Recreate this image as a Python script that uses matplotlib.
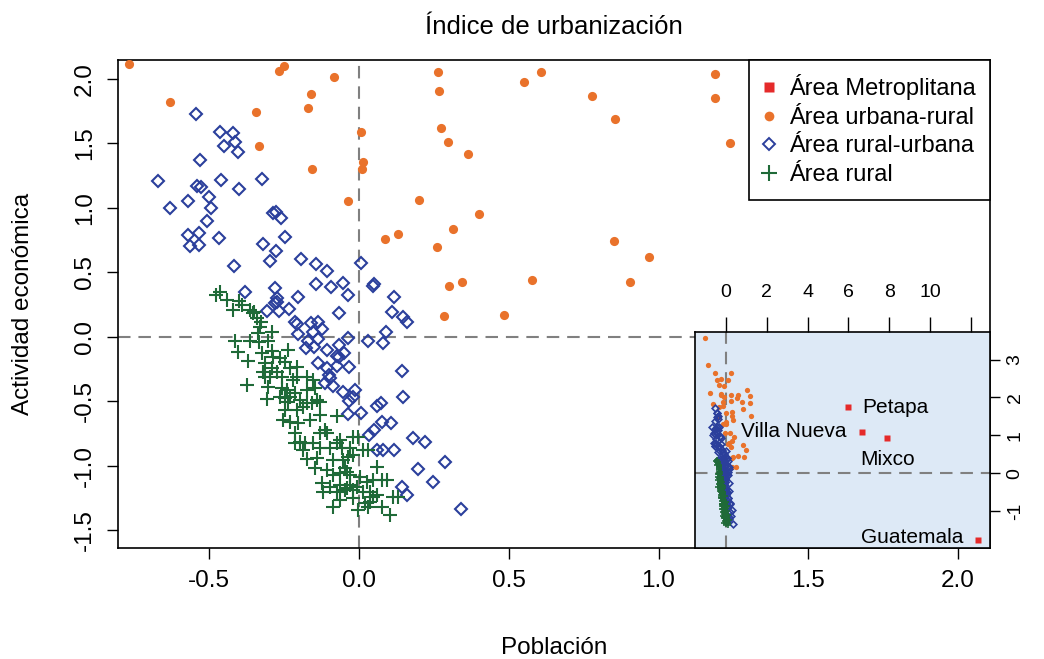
import matplotlib
matplotlib.use('Agg')
import matplotlib.pyplot as plt
from matplotlib.lines import Line2D

plt.rcParams['font.family'] = ['Liberation Sans', 'DejaVu Sans']
plt.rcParams['axes.unicode_minus'] = False

title = "Índice de urbanización"
xlabel = "Población"
ylabel = "Actividad económica"
legend_labels = ["Área Metroplitana", "Área urbana-rural", "Área rural-urbana", "Área rural"]

# Área urbana-rural (orange dots)
urb_rur_x = [-0.768, -0.266, -0.250, -0.085, -0.633, -0.160, -0.171, -0.343, 0.007, -0.333,
             0.014, 0.009, -0.157, -0.036, 0.201, 0.086, 0.131, 0.265, 0.267, 0.551,
             0.607, 1.190, 1.190, 0.778, 0.856, 1.240, 0.275, 0.296, 0.363, 0.400,
             0.314, 0.261, 0.851, 0.969, 0.299, 0.344, 0.579, 0.905, 0.283, 0.483,
             -1.03, -0.87, -0.54, 0.25, -0.46, -0.25, 0.11, -0.34, -0.08, 1.04]
urb_rur_y = [2.114, 2.065, 2.103, 2.016, 1.822, 1.884, 1.773, 1.744, 1.592, 1.483,
             1.354, 1.300, 1.300, 1.052, 1.064, 0.760, 0.796, 2.057, 1.909, 1.979,
             2.052, 2.041, 1.855, 1.871, 1.692, 1.501, 1.620, 1.514, 1.416, 0.953,
             0.840, 0.700, 0.747, 0.618, 0.398, 0.426, 0.439, 0.429, 0.165, 0.171,
             3.56, 2.86, 2.64, 2.64, 2.46, 2.48, 2.46, 2.33, 2.30, 2.20]

# Área rural-urbana (blue open diamonds)
rur_urb_x = [-0.545, -0.465, -0.421, -0.413, -0.452, -0.403, -0.530, -0.673, -0.540, -0.528,
             -0.461, -0.323, -0.401, -0.501, -0.572, -0.631, -0.493, -0.286, -0.279, -0.261,
             -0.508, -0.572, -0.534, -0.467, -0.564, -0.535, -0.320, -0.248, -0.277, -0.297,
             -0.195, -0.143, -0.107, 0.007, -0.143, -0.093, -0.052, 0.051, 0.048, -0.037,
             -0.282, -0.203, -0.275, 0.118, -0.417, -0.381, -0.280, -0.273, -0.306, -0.269,
             -0.234, -0.066, 0.109, 0.148, 0.159, -0.213, -0.208, -0.161, -0.138, -0.125,
             -0.153, -0.203, -0.038, 0.089, 0.029, 0.079, -0.169, -0.136, -0.178, -0.150,
             -0.108, -0.067, -0.049, -0.074, -0.067, -0.136, -0.074, -0.034, -0.106, -0.099,
             -0.097, -0.114, -0.086, 0.145, -0.052, -0.013, -0.019, -0.032, 0.148, 0.059,
             0.072, -0.036, 0.006, 0.076, 0.106, 0.051, 0.033, 0.181, 0.220, 0.059,
             0.081, 0.118, 0.287, 0.198, 0.246, 0.145, 0.160, 0.340]
rur_urb_y = [1.729, 1.587, 1.579, 1.514, 1.478, 1.437, 1.375, 1.207, 1.168, 1.165,
             1.215, 1.222, 1.145, 1.085, 1.052, 0.997, 0.997, 0.963, 0.971, 0.920,
             0.902, 0.793, 0.804, 0.767, 0.705, 0.711, 0.723, 0.775, 0.670, 0.592,
             0.607, 0.568, 0.512, 0.574, 0.411, 0.390, 0.421, 0.411, 0.395, 0.326,
             0.382, 0.308, 0.300, 0.308, 0.548, 0.351, 0.261, 0.274, 0.202, 0.204,
             0.215, 0.184, 0.196, 0.157, 0.114, 0.114, 0.098, 0.106, 0.114, 0.060,
             0.041, 0.021, -0.005, 0.039, -0.031, -0.049, -0.031, -0.018, -0.088, -0.080,
             -0.101, -0.062, -0.121, -0.147, -0.158, -0.199, -0.225, -0.235, -0.243, -0.295,
             -0.320, -0.359, -0.380, -0.261, -0.424, -0.411, -0.463, -0.496, -0.463, -0.535,
             -0.509, -0.599, -0.592, -0.656, -0.669, -0.721, -0.760, -0.785, -0.811, -0.876,
             -0.876, -0.876, -0.966, -1.026, -1.121, -1.160, -1.225, -1.336]

# Área rural (green crosses)
rural_x = [-0.477, -0.466, -0.440, -0.420, -0.400, -0.392, -0.364, -0.355, -0.350, -0.342,
           -0.328, -0.331, -0.292, -0.336, -0.414, -0.364, -0.333, -0.303, -0.403, -0.370,
           -0.325, -0.292, -0.286, -0.264, -0.236, -0.314, -0.247, -0.292, -0.208, -0.230,
           -0.275, -0.320, -0.314, -0.297, -0.258, -0.208, -0.175, -0.153, -0.219, -0.375,
           -0.303, -0.258, -0.241, -0.214, -0.175, -0.147, -0.308, -0.264, -0.247, -0.230,
           -0.236, -0.197, -0.175, -0.141, -0.158, -0.130, -0.247, -0.208, -0.186, -0.253,
           -0.230, -0.203, -0.164, -0.130, -0.072, -0.214, -0.130, -0.114, -0.108, -0.214,
           -0.197, -0.180, -0.153, -0.186, -0.130, -0.097, -0.074, -0.063, -0.058, -0.030,
           -0.019, -0.002, -0.175, -0.141, -0.086, -0.052, -0.036, -0.019, 0.014, 0.031,
           -0.147, -0.108, -0.047, -0.041, 0.059, -0.086, -0.063, -0.030, 0.003, -0.125,
           -0.097, -0.063, -0.041, -0.030, -0.008, 0.026, 0.048, 0.076, 0.092, -0.119,
           -0.074, -0.047, -0.019, 0.014, 0.037, 0.048, 0.059, -0.063, -0.019, 0.020,
           0.037, 0.115, 0.131, -0.086, -0.002, 0.031, 0.076, 0.104]
rural_y = [0.326, 0.351, 0.287, 0.209, 0.282, 0.248, 0.209, 0.183, 0.196, 0.145,
           0.119, 0.080, 0.041, 0.028, -0.028, -0.028, -0.036, -0.031, -0.114, -0.183,
           -0.126, -0.106, -0.153, -0.166, -0.101, -0.199, -0.191, -0.243, -0.230, -0.240,
           -0.269, -0.275, -0.308, -0.308, -0.312, -0.308, -0.308, -0.333, -0.333, -0.372,
           -0.390, -0.398, -0.411, -0.437, -0.411, -0.398, -0.483, -0.463, -0.475, -0.463,
           -0.502, -0.488, -0.514, -0.488, -0.514, -0.502, -0.566, -0.566, -0.540, -0.643,
           -0.657, -0.664, -0.643, -0.605, -0.612, -0.747, -0.747, -0.721, -0.747, -0.824,
           -0.811, -0.824, -0.824, -0.876, -0.863, -0.863, -0.824, -0.798, -0.863, -0.863,
           -0.773, -0.773, -0.948, -0.940, -0.953, -0.953, -0.928, -0.915, -0.876, -0.876,
           -1.018, -1.031, -1.018, -1.044, -1.005, -1.070, -1.057, -1.070, -1.083, -1.134,
           -1.160, -1.147, -1.173, -1.147, -1.160, -1.121, -1.108, -1.108, -1.108, -1.199,
           -1.199, -1.186, -1.186, -1.199, -1.199, -1.238, -1.225, -1.264, -1.250, -1.289,
           -1.277, -1.238, -1.238, -1.320, -1.341, -1.315, -1.315, -1.380]

# Área Metropolitana (red squares, inset only)
metro_names = ["Petapa", "Villa Nueva", "Mixco", "Guatemala"]
metro_x = [6.0, 6.65, 7.91, 12.34]
metro_y = [1.74, 1.09, 0.92, -1.77]

main_xticks = [-0.5, 0.0, 0.5, 1.0, 1.5, 2.0]
main_yticks = [-1.5, -1.0, -0.5, 0.0, 0.5, 1.0, 1.5, 2.0]
inset_xticks = [0, 2, 4, 6, 8, 10, 12]
inset_xticklabels = ["0", "2", "4", "6", "8", "10", ""]
inset_yticks = [-1, 0, 1, 2, 3]

ORANGE = '#e9722b'
BLUE = '#2b3f9c'
GREEN = '#1f6a38'
RED = '#e52a2a'
GREY = '#808080'

W, H = 1044, 659
fig = plt.figure(figsize=(W / 100, H / 100), dpi=100)

def fx(px):
    return px / W

def fy(py):
    return 1 - py / H

ax = fig.add_axes([fx(118), fy(548), fx(990) - fx(118), fy(60) - fy(548)])
ax.set_xlim(-0.805, 2.107)
ax.set_ylim(-1.636, 2.147)

ax.plot(urb_rur_x, urb_rur_y, 'o', color=ORANGE, ms=6.6, mec='none', zorder=3)
ax.plot(rur_urb_x, rur_urb_y, 'D', mfc='none', mec=BLUE, mew=1.5, ms=6.4, zorder=3)
ax.plot(rural_x, rural_y, '+', color=GREEN, mew=1.5, ms=10, zorder=3)
dash = (0, (6.0, 3.8))
ax.axhline(0, color=GREY, lw=1.5, ls=dash, zorder=2)
ax.axvline(0, color=GREY, lw=1.5, ls=dash, zorder=2)

ax.set_xticks(main_xticks)
ax.set_xticklabels([f"{v:.1f}" for v in main_xticks])
ax.set_yticks(main_yticks)
ax.set_yticklabels([f"{v:.1f}" for v in main_yticks], rotation=90, va='center')
ax.tick_params(axis='both', direction='out', length=8, width=1, labelsize=17.5, colors='black')
ax.tick_params(axis='x', pad=8)
ax.tick_params(axis='y', pad=8)
for s in ax.spines.values():
    s.set_linewidth(1.2)

handles = [
    Line2D([], [], ls='none', marker='s', color=RED, ms=7, mec='none'),
    Line2D([], [], ls='none', marker='o', color=ORANGE, ms=7, mec='none'),
    Line2D([], [], ls='none', marker='D', mfc='none', mec=BLUE, mew=1.4, ms=6.5),
    Line2D([], [], ls='none', marker='+', color=GREEN, mew=1.5, ms=11),
]
leg = ax.legend(handles, legend_labels, loc='upper right', borderaxespad=0, frameon=True,
                fancybox=False, edgecolor='black', framealpha=1, fontsize=17,
                handlelength=0.5, handletextpad=0.6, labelspacing=0.28, borderpad=0.6)
leg.get_frame().set_linewidth(1.2)
leg.set_zorder(5)

fig.text(fx(554), fy(27), title, ha='center', va='center', fontsize=18.5)
fig.text(fx(554), fy(648), xlabel, ha='center', va='center', fontsize=17.5)
fig.text(fx(23), fy(304), ylabel, ha='center', va='center', fontsize=17.5, rotation=90)

# inset
axin = fig.add_axes([fx(695), fy(548), fx(990) - fx(695), fy(332) - fy(548)])
axin.set_facecolor('#dde9f6')
axin.set_xlim(-1.52, 12.94)
axin.set_ylim(-1.98, 3.73)
axin.axhline(0, color=GREY, lw=1.5, ls=dash, zorder=1)
axin.axvline(0, color=GREY, lw=1.5, ls=dash, zorder=1)
axin.plot(urb_rur_x, urb_rur_y, 'o', color=ORANGE, ms=3.8, mec='none', zorder=3)
axin.plot(rur_urb_x, rur_urb_y, 'D', mfc='none', mec=BLUE, mew=1.2, ms=3.4, zorder=3)
axin.plot(rural_x, rural_y, '+', color=GREEN, mew=1.2, ms=4.5, zorder=3)
axin.plot(metro_x, metro_y, 's', color=RED, ms=4.2, mec='none', zorder=4)

offsets = {"Petapa": (10, 0, 'left', 'center'),
           "Villa Nueva": (-11, 0.5, 'right', 'center'),
           "Mixco": (0, -15.5, 'center', 'center'),
           "Guatemala": (-10.5, 1.5, 'right', 'center')}
for name, mx, my in zip(metro_names, metro_x, metro_y):
    dx, dy, ha, va = offsets[name]
    axin.annotate(name, (mx, my), xytext=(dx, dy), textcoords='offset points',
                  ha=ha, va=va, fontsize=15)

axin.xaxis.tick_top()
axin.yaxis.tick_right()
axin.set_xticks(inset_xticks)
axin.set_xticklabels(inset_xticklabels)
axin.set_yticks(inset_yticks)
axin.set_yticklabels([str(v) for v in inset_yticks], rotation=90, va='center')
axin.tick_params(axis='x', direction='out', length=11, width=1, labelsize=14, pad=11)
axin.tick_params(axis='y', direction='out', length=7, width=1, labelsize=14, pad=5)
for s in axin.spines.values():
    s.set_linewidth(1.2)

fig.savefig('out.png', dpi=100)
